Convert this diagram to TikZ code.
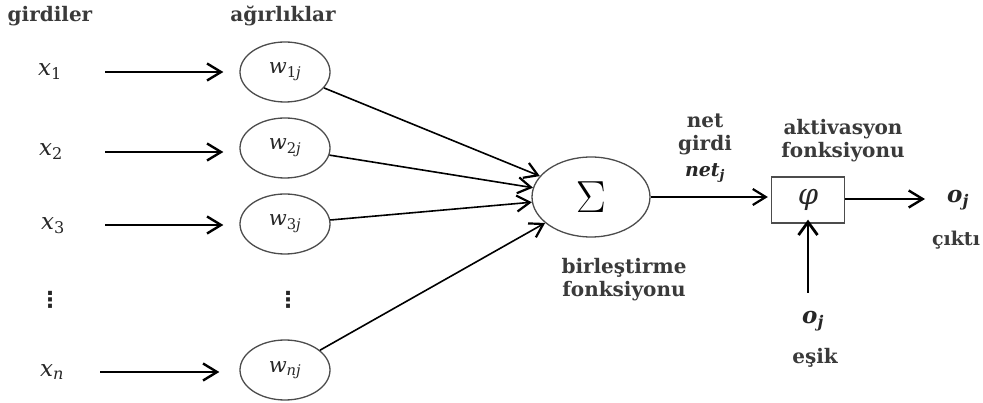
\RequirePackage{fix-cm}
\documentclass[tikz,border=0pt]{standalone}
\usepackage{fontspec}
\setmainfont{DejaVu Serif}
\newfontfamily\dsans{DejaVu Sans}
\usetikzlibrary{arrows.meta,shapes.geometric}
\definecolor{txt}{HTML}{3A3A3A}
\newcommand\vs[2]{\textit{#1}\textsubscript{#2}}
\tikzset{
  lbl/.style={text=txt, font=\fontsize{20}{23}\selectfont\bfseries, align=center, inner sep=0pt},
  var/.style={text=black!85, font=\fontsize{23}{25}\selectfont, inner sep=0pt},
  dots/.style={text=black!85, font=\dsans\bfseries\fontsize{22}{24}\selectfont, inner sep=0pt},
  wnode/.style={draw=black!70, line width=1.3pt, ellipse, minimum width=90pt, minimum height=60pt, inner sep=0pt, text=black!85, font=\fontsize{21}{23}\selectfont},
  arr/.style={line width=2.4pt, -{Straight Barb[length=14pt, width=17pt, line width=2.4pt]}},
  thin/.style={line width=1.6pt, -{Straight Barb[length=13pt, width=16pt, line width=2.2pt]}},
}
\begin{document}
\begin{tikzpicture}[x=1pt, y=-1pt]
\useasboundingbox (0,0) rectangle (983,403);
% headers
\node[lbl] (hin) at (50,16) {girdiler};
\node[lbl] (hw) at (283,16) {ağırlıklar};
% inputs
\node[var] (x1) at (50,72) {\vs{x}{1}};
\node[var] (x2) at (51,152) {\vs{x}{2}};
\node[var] (x3) at (53,226) {\vs{x}{3}};
\node[dots] (xd) at (50,300) {⋮};
\node[var] (xn) at (52,372) {\vs{x}{\textit{n}}};
% weights
\node[wnode] (w1) at (285,72) {\vs{w}{1\textit{j}}};
\node[wnode] (w2) at (285,148) {\vs{w}{2\textit{j}}};
\node[wnode] (w3) at (285,224) {\vs{w}{3\textit{j}}};
\node[dots] (wd) at (288,300) {⋮};
\node[wnode] (wn) at (285,370) {\vs{w}{\textit{nj}}};
% input arrows
\coordinate (a1) at (105,72);
\coordinate (a2) at (105,152);
\coordinate (a3) at (105,225);
\coordinate (an) at (100,372);
\draw[arr] (a1) -- ([xshift=-16pt]w1.west |- a1);
\draw[arr] (a2) -- ([xshift=-16pt]w2.west |- a2);
\draw[arr] (a3) -- ([xshift=-16pt]w3.west |- a3);
\draw[arr] (an) -- ([xshift=-20pt]wn.west |- an);
% sum
\node[draw=black!70, line width=1.3pt, ellipse, minimum width=118pt, minimum height=80pt, inner sep=0pt, font=\fontsize{45}{45}\selectfont] (sum) at (591,197) {$\Sigma$};
\draw[thin] (w1) -- (sum);
\draw[thin] (w2) -- (sum);
\draw[thin] (w3) -- (sum);
\draw[thin] (wn) -- (sum);
\node[lbl] (birl) at (624,280) {birleştirme\\fonksiyonu};
% activation
\node[draw=black!70, line width=1.3pt, minimum width=73pt, minimum height=46pt, inner sep=0pt, text=black!85, font=\fontsize{29}{31}\selectfont] (phi) at (808,200) {\textit{φ}};
\draw[thin] (sum) -- ([xshift=-3pt]phi.west |- sum);
\node[lbl] (netl) at (705,134) {net\\girdi};
\node[var, font=\fontsize{19}{21}\selectfont\bfseries] (netj) at (705,173) {\vs{net}{\textit{j}}};
\node[lbl] (akt) at (843,141) {aktivasyon\\fonksiyonu};
% output
\coordinate (oend) at (925,199);
\draw[arr] (phi.east |- oend) -- (oend);
\node[var, font=\fontsize{23}{25}\selectfont\bfseries] (oj) at (958,200) {\vs{o}{\textit{j}}};
\node[lbl, font=\fontsize{19}{21}\selectfont\bfseries] (cikti) at (956,240) {çıktı};
% threshold
\coordinate (tstart) at (808,293);
\draw[line width=2.8pt, -{Straight Barb[length=13pt, width=19pt, line width=2.8pt]}] (tstart) -- ([yshift=4pt]phi.south);
\node[var, font=\fontsize{23}{25}\selectfont\bfseries] (th) at (813,321) {\vs{o}{\textit{j}}};
\node[lbl] (esik) at (815,358) {eşik};
\end{tikzpicture}
\end{document}
